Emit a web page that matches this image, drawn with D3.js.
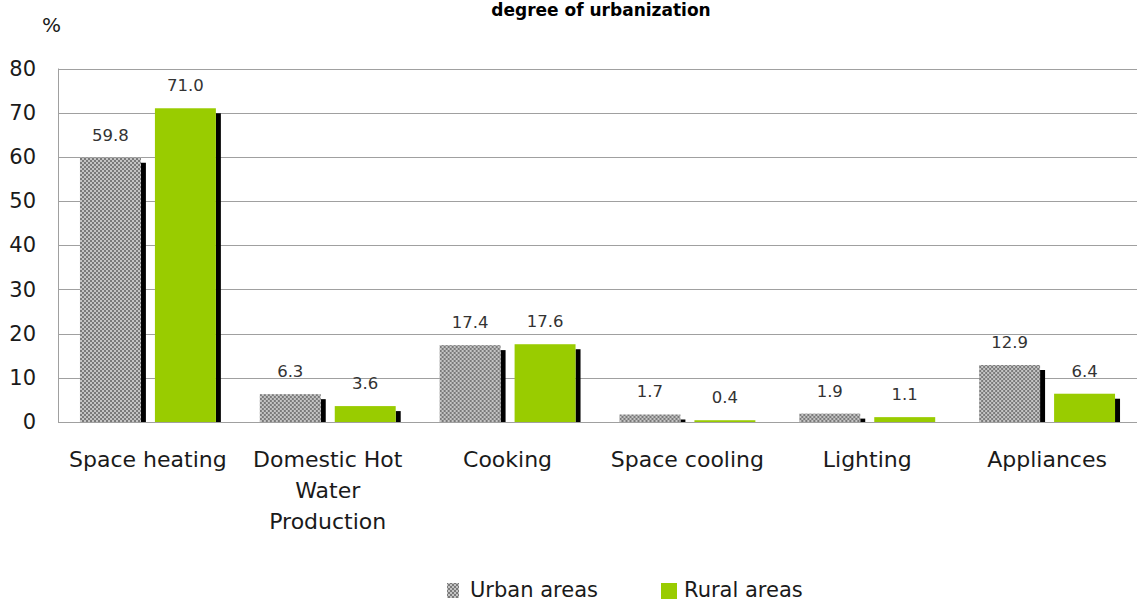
<!DOCTYPE html>
<html>
<head>
<meta charset="utf-8">
<script src="https://cdn.jsdelivr.net/npm/d3@7"></script>
<style>
  html, body { margin: 0; padding: 0; background: #fff; }
  svg { display: block; }
  text { font-family: "DejaVu Sans", sans-serif; }
</style>
</head>
<body>
<script>
const categories = ["Space heating", "Domestic Hot Water Production", "Cooking", "Space cooling", "Lighting", "Appliances"];
const seriesNames = ["Urban areas", "Rural areas"];
const urbanValues = [59.8, 6.3, 17.4, 1.7, 1.9, 12.9];
const ruralValues = [71.0, 3.6, 17.6, 0.4, 1.1, 6.4];
const yTicks = [0, 10, 20, 30, 40, 50, 60, 70, 80];
const titleText = "degree of urbanization";
const unitText = "%";

const W = 1137, H = 603;
const svg = d3.select("body").append("svg").attr("width", W).attr("height", H);

const defs = svg.append("defs");
const pat = defs.append("pattern").attr("id", "checker").attr("patternUnits", "userSpaceOnUse")
  .attr("width", 4).attr("height", 4);
pat.append("rect").attr("width", 4).attr("height", 4).attr("fill", "#c4c4c4");
pat.append("rect").attr("x", 0).attr("y", 0).attr("width", 2).attr("height", 2).attr("fill", "#7a7a7a");
pat.append("rect").attr("x", 2).attr("y", 2).attr("width", 2).attr("height", 2).attr("fill", "#7a7a7a");

const fills = ["url(#checker)", "#99cc00"];

const x = d3.scaleBand().domain(categories).range([58, 1137]).paddingInner(0).paddingOuter(0);
const xs = d3.scaleBand().domain(seriesNames).range([0, x.bandwidth()]).paddingInner(0.187).paddingOuter(0.293);
const y = d3.scaleLinear().domain([0, 80]).range([422, 68.5]);

// gridlines
svg.append("g").selectAll("line").data(yTicks.filter(t => t > 0)).join("line")
  .attr("x1", 58).attr("x2", 1137)
  .attr("y1", d => Math.round(y(d)) + 0.5).attr("y2", d => Math.round(y(d)) + 0.5)
  .attr("stroke", "#a0a0a0").attr("stroke-width", 1);

// y axis
const yAxis = d3.axisLeft(y).tickValues(yTicks).tickSize(0).tickPadding(22).tickFormat(d3.format("d"));
const yg = svg.append("g").attr("transform", "translate(58,0)").call(yAxis);
yg.select(".domain").remove();
yg.selectAll("text").attr("font-size", 21).attr("fill", "#1a1a1a")
  .attr("font-family", "DejaVu Sans, sans-serif");

svg.append("line").attr("x1", 58.5).attr("x2", 58.5).attr("y1", y(80)).attr("y2", y(0) + 0.5)
  .attr("stroke", "#a0a0a0");

const data = categories.map((c, i) => ({ c, vals: [urbanValues[i], ruralValues[i]] }));

const groups = svg.append("g").selectAll("g").data(data).join("g")
  .attr("transform", d => `translate(${x(d.c)},0)`);

const items = groups.selectAll("g").data(d => d.vals.map((v, j) => ({ v, s: seriesNames[j], j }))).join("g");

// shadows
items.append("rect")
  .attr("x", d => xs(d.s) + xs.bandwidth())
  .attr("width", 5)
  .attr("y", d => y(d.v) + 5)
  .attr("height", d => Math.max(0, y(0) - y(d.v) - 5))
  .attr("fill", "#000");

items.append("rect")
  .attr("x", d => xs(d.s))
  .attr("width", xs.bandwidth())
  .attr("y", d => y(d.v))
  .attr("height", d => y(0) - y(d.v))
  .attr("fill", d => fills[d.j]);

items.append("text")
  .attr("x", d => xs(d.s) + xs.bandwidth() / 2)
  .attr("y", d => y(d.v) - 17)
  .attr("text-anchor", "middle")
  .attr("font-size", 16.5)
  .attr("fill", "#333")
  .text(d => d.v.toFixed(1));

// baseline axis
svg.append("line").attr("x1", 58).attr("x2", 1137).attr("y1", Math.round(y(0)) + 0.5).attr("y2", Math.round(y(0)) + 0.5)
  .attr("stroke", "#a0a0a0");

// x labels with wrapping
const xg = svg.append("g");
const maxW = x.bandwidth();
categories.forEach(c => {
  const t = xg.append("text").attr("x", x(c) + x.bandwidth() / 2).attr("y", 467)
    .attr("text-anchor", "middle").attr("font-size", 22).attr("fill", "#1a1a1a");
  const words = c.split(" ");
  let line = [];
  let tspan = t.append("tspan").attr("x", x(c) + x.bandwidth() / 2).attr("dy", 0);
  words.forEach(w => {
    line.push(w);
    tspan.text(line.join(" "));
    if (tspan.node().getComputedTextLength() > maxW - 4 && line.length > 1) {
      line.pop();
      tspan.text(line.join(" "));
      line = [w];
      tspan = t.append("tspan").attr("x", x(c) + x.bandwidth() / 2).attr("dy", 31).text(w);
    }
  });
});

// title
svg.append("text").attr("x", 601).attr("y", 16).attr("text-anchor", "middle")
  .attr("font-size", 17).attr("font-weight", "bold").attr("fill", "#000").text(titleText);

// unit
svg.append("text").attr("x", 42).attr("y", 32).attr("font-size", 20).attr("fill", "#1a1a1a").text(unitText);

// legend
const legendX = [447, 661];
const lg = svg.append("g");
seriesNames.forEach((s, j) => {
  lg.append("rect").attr("x", legendX[j]).attr("y", 583).attr("width", j === 0 ? 12 : 16).attr("height", j === 0 ? 15 : 16)
    .attr("fill", fills[j]);
  lg.append("text").attr("x", legendX[j] + 23).attr("y", 597).attr("font-size", 21).attr("fill", "#1a1a1a").text(s);
});
</script>
</body>
</html>
